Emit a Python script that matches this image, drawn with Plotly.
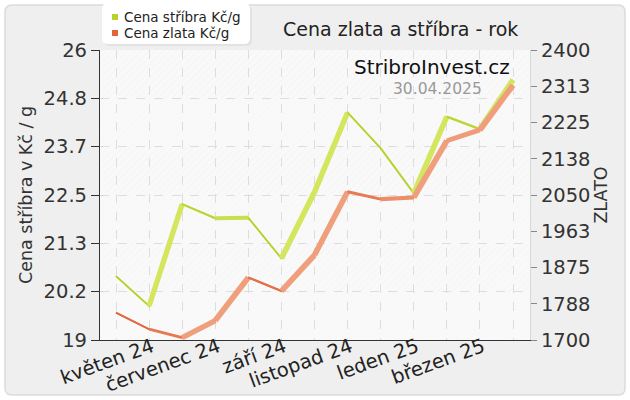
import plotly.graph_objects as go

# ---------------- data ----------------
months = ["duben 24", "květen 24", "červen 24", "červenec 24", "srpen 24", "září 24",
          "říjen 24", "listopad 24", "prosinec 24", "leden 25", "únor 25", "březen 25", "duben 25"]
silver = [20.54, 19.82, 22.28, 21.94, 21.95, 20.97, 22.57, 24.49, 23.63, 22.54, 24.39, 24.09, 25.28]
gold = [1766, 1726, 1706, 1747, 1851, 1818, 1905, 2058, 2040, 2044, 2181, 2207, 2315]
silver_ticks = ["19", "20.2", "21.3", "22.5", "23.7", "24.8", "26"]
gold_ticks = ["1700", "1788", "1875", "1963", "2050", "2138", "2225", "2313", "2400"]
x_labels = [m if i % 2 == 1 else "" for i, m in enumerate(months)]

title = "Cena zlata a stříbra - rok"
brand = "StribroInvest.cz"
date_txt = "30.04.2025"
left_title = "Cena stříbra v Kč / g"
right_title = "ZLATO"
legend_names = ["Cena stříbra Kč/g", "Cena zlata Kč/g"]

# ---------------- layout geometry ----------------
W, H = 630, 400
ML, MR, MT, MB = 100, 100, 50, 60
PW, PH = W - ML - MR, H - MT - MB
s_min, s_max = 19.0, 26.0
g_min, g_max = 1700.0, 2400.0
xr = [-0.484, 12.514]
xi = list(range(len(months)))

def px(x):
    return (x - ML) / PW

def py(y):
    return (H - MB - y) / PH

FONT = "DejaVu Sans"

def blend(c1, c2, t):
    a = [int(c1[i:i + 2], 16) for i in (1, 3, 5)]
    b = [int(c2[i:i + 2], 16) for i in (1, 3, 5)]
    return "#" + "".join(f"{int(round(a[k] + (b[k] - a[k]) * t)):02x}" for k in range(3))

def seg_widths(vals, vmin, vmax):
    sx = PW / (xr[1] - xr[0])
    sy = PH / (vmax - vmin)
    out = []
    for i in range(len(vals) - 1):
        dx = sx
        dy = -(vals[i + 1] - vals[i]) * sy
        ln = (dx * dx + dy * dy) ** 0.5
        t = abs(3.3 * dx - 3.9 * dy) / ln
        out.append(max(1.6, t + 0.6))
    return out

fig = go.Figure()

# hatched background bands
step = (s_max - s_min) / 6
fig.add_trace(go.Bar(x=[6] * 3, base=[s_min + k * step for k in (1, 3, 5)], y=[step] * 3,
                     width=14, opacity=0.8,
                     marker=dict(color="#e6e6e6", line=dict(width=0),
                                 pattern=dict(shape="/", size=5, solidity=0.12,
                                              fgcolor="#e3e3e3", bgcolor="rgba(0,0,0,0)")),
                     showlegend=False, hoverinfo="skip"))
fig.add_trace(go.Bar(x=[6] * 3, base=[s_min + k * step for k in (0, 2, 4)], y=[step] * 3,
                     width=14, opacity=0.4,
                     marker=dict(color="#ededed", line=dict(width=0),
                                 pattern=dict(shape="/", size=5, solidity=0.1,
                                              fgcolor="#e8e8e8", bgcolor="rgba(0,0,0,0)")),
                     showlegend=False, hoverinfo="skip"))

def add_ribbon(vals, vmin, vmax, dark, light, yaxis):
    fig.add_trace(go.Scatter(x=xi, y=vals, mode="lines", yaxis=yaxis,
                             line=dict(color=dark, width=1.6), showlegend=False, hoverinfo="skip"))
    ws = seg_widths(vals, vmin, vmax)
    for i, w in enumerate(ws):
        t = min(1.0, max(0.0, (w - 1.6) / 3.5))
        fig.add_trace(go.Scatter(x=[xi[i], xi[i + 1]], y=[vals[i], vals[i + 1]], mode="lines",
                                 yaxis=yaxis, line=dict(color=blend(dark, light, t), width=w),
                                 showlegend=False, hoverinfo="skip"))

add_ribbon(silver, s_min, s_max, "#b6d22c", "#d3e65e", "y")
add_ribbon(gold, g_min, g_max, "#e0663a", "#ef9f7c", "y2")

# ---------------- shapes ----------------
def rounded(x0, y0, x1, y1, r):
    rx, ry = r / PW, r / PH
    X0, X1 = px(x0), px(x1)
    Y0, Y1 = py(y0), py(y1)  # Y0 top (larger)
    return (f"M {X0 + rx},{Y0} L {X1 - rx},{Y0} Q {X1},{Y0} {X1},{Y0 - ry} "
            f"L {X1},{Y1 + ry} Q {X1},{Y1} {X1 - rx},{Y1} L {X0 + rx},{Y1} "
            f"Q {X0},{Y1} {X0},{Y1 + ry} L {X0},{Y0 - ry} Q {X0},{Y0} {X0 + rx},{Y0} Z")

shapes = [
    dict(type="path", xref="paper", yref="paper", path=rounded(5, 5, 625, 395, 7),
         fillcolor="#efefef", line=dict(color="#dcdcdc", width=1.5), layer="below"),
    dict(type="rect", xref="paper", yref="paper", x0=0, x1=1, y0=0, y1=1,
         fillcolor="#f9f9f9", line=dict(width=0), layer="below"),
    dict(type="path", xref="paper", yref="paper", path=rounded(104, 5, 252, 46, 6),
         fillcolor="#e2e2e2", line=dict(width=0), layer="above"),
    dict(type="path", xref="paper", yref="paper", path=rounded(102, 3, 250, 44, 6),
         fillcolor="#ffffff", line=dict(width=0), layer="above"),
    dict(type="rect", xref="paper", yref="paper", x0=px(112), x1=px(118), y0=py(14), y1=py(20),
         fillcolor="#b6d22c", line=dict(width=0), layer="above"),
    dict(type="rect", xref="paper", yref="paper", x0=px(112), x1=px(118), y0=py(30), y1=py(36),
         fillcolor="#e0663a", line=dict(width=0), layer="above"),
]

annotations = [
    dict(text=legend_names[0], x=px(122), y=py(17), xref="paper", yref="paper", xanchor="left",
         yanchor="middle", showarrow=False, font=dict(family=FONT, size=13.5, color="#222")),
    dict(text=legend_names[1], x=px(122), y=py(33), xref="paper", yref="paper", xanchor="left",
         yanchor="middle", showarrow=False, font=dict(family=FONT, size=13.5, color="#222")),
    dict(text=title, x=px(400), y=py(29), xref="paper", yref="paper", xanchor="center",
         yanchor="middle", showarrow=False, font=dict(family=FONT, size=19, color="#222")),
    dict(text=brand, x=px(512), y=py(67), xref="paper", yref="paper", xanchor="right",
         yanchor="middle", showarrow=False, font=dict(family=FONT, size=20, color="#111")),
    dict(text=date_txt, x=px(484), y=py(89), xref="paper", yref="paper", xanchor="right",
         yanchor="middle", showarrow=False, font=dict(family=FONT, size=15.5, color="#999")),
]

fig.update_layout(
    width=W, height=H, margin=dict(l=ML, r=MR, t=MT, b=MB, autoexpand=False),
    paper_bgcolor="#ffffff", plot_bgcolor="rgba(0,0,0,0)",
    barmode="overlay", showlegend=False,
    font=dict(family=FONT, color="#333"),
    shapes=shapes, annotations=annotations,
    xaxis=dict(range=xr, tickmode="array", tickvals=xi, ticktext=x_labels, tickangle=-20,
               tickfont=dict(size=19.5, color="#222"), showgrid=True, gridcolor="#dddddd",
               griddash="dash", gridwidth=1, zeroline=False, showline=True, linecolor="#333",
               linewidth=1.2, ticks="", ticklabelshift=3, ticklabelstandoff=-13,
               automargin=False),
    yaxis=dict(range=[s_min, s_max], tickmode="array",
               tickvals=[s_min + k * step for k in range(7)], ticktext=silver_ticks,
               tickfont=dict(size=19.5, color="#333"), showgrid=True, gridcolor="#dddddd",
               griddash="dash", zeroline=False, showline=True, linecolor="#333", linewidth=1.2,
               ticks="outside", ticklen=8, tickcolor="#333", automargin=False,
               title=dict(text=left_title, font=dict(size=17.5, color="#333"), standoff=6)),
    yaxis2=dict(range=[g_min, g_max], overlaying="y", side="right", tickmode="array",
                tickvals=[g_min + k * 87.5 for k in range(9)], ticktext=gold_ticks,
                tickfont=dict(size=19.5, color="#333"), showgrid=False, zeroline=False,
                showline=True, linecolor="#d8d8d8", ticks="outside", ticklen=6,
                tickcolor="#888", automargin=False,
                title=dict(text=right_title, font=dict(size=17.5, color="#333"), standoff=2)),
)

fig.write_html("out.html", config={"displayModeBar": False},
               post_script="document.body.style.margin='0px';document.body.style.overflow='hidden';")
